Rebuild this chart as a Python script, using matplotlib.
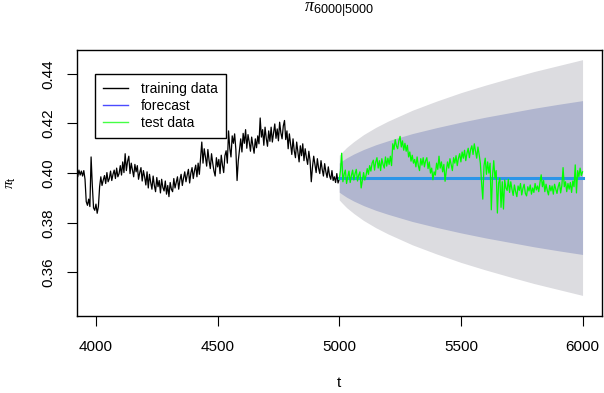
import numpy as np
import matplotlib
matplotlib.use('Agg')
import matplotlib.pyplot as plt
from matplotlib.lines import Line2D

plt.rcParams['font.family'] = ['Liberation Sans', 'DejaVu Sans']
plt.rcParams['mathtext.fontset'] = 'custom'
plt.rcParams['mathtext.rm'] = 'Liberation Sans'
plt.rcParams['mathtext.it'] = 'Liberation Serif:italic'

# training series, t = 3920 ... 5000 (step 5)
train_t = np.arange(3920, 5001, 5)
train_vals = [
    0.4005, 0.3985, 0.4012, 0.3992, 0.4008, 0.3988, 0.4010, 0.3975, 0.3885, 0.3870,
    0.3895, 0.3865, 0.4065, 0.3950, 0.3860, 0.3850, 0.3875, 0.3838, 0.3865, 0.3945,
    0.3985, 0.3950, 0.3972, 0.3990, 0.3958, 0.4002, 0.3965, 0.3978, 0.4008, 0.3970,
    0.3995, 0.4012, 0.3978, 0.4020, 0.3985, 0.3998, 0.4030, 0.3992, 0.4045, 0.4002,
    0.4078, 0.4010, 0.4048, 0.4068, 0.3998, 0.4040, 0.4012, 0.3985, 0.4035, 0.4005,
    0.4030, 0.3975, 0.4002, 0.4022, 0.3968, 0.4010, 0.3985, 0.3952, 0.4005, 0.3940,
    0.3995, 0.3962, 0.3935, 0.3988, 0.3950, 0.3925, 0.3982, 0.3945, 0.3970, 0.3920,
    0.3975, 0.3942, 0.3928, 0.3968, 0.3915, 0.3950, 0.3905, 0.3962, 0.3935, 0.3925,
    0.3978, 0.3940, 0.3962, 0.3985, 0.3935, 0.3972, 0.3995, 0.3950, 0.3980, 0.4005,
    0.3965, 0.3992, 0.4015, 0.3960, 0.4000, 0.4022, 0.3978, 0.4010, 0.4032, 0.3985,
    0.4040, 0.3995, 0.4062, 0.4125, 0.4040, 0.4098, 0.4065, 0.4028, 0.4095, 0.4050,
    0.4018, 0.4078, 0.4040, 0.4008, 0.3988, 0.4062, 0.4025, 0.4055, 0.3998, 0.4072,
    0.4032, 0.4002, 0.4070, 0.4090, 0.4040, 0.4170, 0.4100, 0.4065, 0.4150, 0.4120,
    0.4158, 0.4095, 0.3970, 0.4050, 0.4095, 0.4138, 0.4085, 0.4160, 0.4120, 0.4175,
    0.4100, 0.4155, 0.4125, 0.4088, 0.4145, 0.4110, 0.4080, 0.4138, 0.4102, 0.4150,
    0.4118, 0.4222, 0.4145, 0.4175, 0.4112, 0.4185, 0.4140, 0.4108, 0.4170, 0.4128,
    0.4185, 0.4125, 0.4160, 0.4198, 0.4140, 0.4178, 0.4130, 0.4205, 0.4162, 0.4138,
    0.4190, 0.4212, 0.4135, 0.4170, 0.4098, 0.4158, 0.4115, 0.4075, 0.4138, 0.4090,
    0.4062, 0.4125, 0.4085, 0.4045, 0.4110, 0.4070, 0.4118, 0.4050, 0.4098, 0.4062,
    0.4035, 0.4088, 0.4050, 0.3965, 0.4025, 0.4068, 0.4035, 0.4002, 0.4058, 0.4020,
    0.3998, 0.4050, 0.4015, 0.3988, 0.4038, 0.4005, 0.3982, 0.4025, 0.3990, 0.3975,
    0.4010, 0.3970, 0.3985, 0.3962, 0.3998, 0.3960, 0.3975,
]

# test series, t = 5000 ... 6000 (step 5)
test_t = np.arange(5000, 6001, 5)
test_vals = [
    0.3975, 0.4010, 0.4080, 0.3965, 0.3995, 0.4012, 0.3958, 0.3985, 0.4008, 0.3962,
    0.3990, 0.4012, 0.3972, 0.3998, 0.4015, 0.3968, 0.3992, 0.4005, 0.3940, 0.3970,
    0.4002, 0.3972, 0.3990, 0.4018, 0.3995, 0.4030, 0.4008, 0.4040, 0.4052, 0.4012,
    0.4045, 0.4062, 0.4020, 0.4050, 0.4010, 0.4058, 0.4035, 0.4020, 0.4065, 0.4028,
    0.4060, 0.4035, 0.4068, 0.4030, 0.4118, 0.4095, 0.4135, 0.4110, 0.4098, 0.4130,
    0.4148, 0.4105, 0.4130, 0.4092, 0.4120, 0.4088, 0.4112, 0.4065, 0.4085, 0.4048,
    0.4072, 0.4040, 0.4055, 0.4025, 0.4065, 0.4030, 0.4010, 0.4058, 0.4032, 0.4062,
    0.4025, 0.4050, 0.4062, 0.4018, 0.4045, 0.4000, 0.4020, 0.3973, 0.4005, 0.3992,
    0.4040, 0.4015, 0.4068, 0.4020, 0.4045, 0.4005, 0.4035, 0.3967, 0.4010, 0.4045,
    0.4020, 0.4058, 0.4035, 0.4010, 0.4062, 0.4040, 0.4070, 0.4030, 0.4060, 0.4078,
    0.4045, 0.4085, 0.4060, 0.4092, 0.4050, 0.4080, 0.4100, 0.4062, 0.4095, 0.4110,
    0.4075, 0.4118, 0.4088, 0.4060, 0.4105, 0.4075, 0.4040, 0.3960, 0.3895, 0.4030,
    0.4060, 0.3995, 0.4045, 0.4000, 0.4040, 0.3852, 0.3990, 0.4050, 0.3980, 0.4010,
    0.3839, 0.3960, 0.3980, 0.3862, 0.3965, 0.3855, 0.3972, 0.3940, 0.3930, 0.3975,
    0.3922, 0.3965, 0.3935, 0.3910, 0.3952, 0.3925, 0.3905, 0.3948, 0.3930, 0.3958,
    0.3912, 0.3938, 0.3955, 0.3918, 0.3908, 0.3945, 0.3928, 0.3952, 0.3915, 0.3940,
    0.3922, 0.3958, 0.3932, 0.3948, 0.3925, 0.3962, 0.3993, 0.3945, 0.3970, 0.3925,
    0.3955, 0.3930, 0.3912, 0.3950, 0.3928, 0.3948, 0.3915, 0.3955, 0.3935, 0.3918,
    0.3945, 0.3962, 0.3920, 0.3950, 0.4022, 0.3945, 0.3965, 0.3925, 0.3958, 0.3935,
    0.3962, 0.3922, 0.3968, 0.3945, 0.4033, 0.3920, 0.4010, 0.3985, 0.4020, 0.3990,
    0.4005,
]

# point forecast and interval half-widths
forecast_start = 5000
forecast_end = 6000
forecast_level = 0.3982
band_t = [5000, 5010, 5030, 5060, 5100, 5150, 5200, 5300, 5400, 5500, 5600, 5700, 5800, 5900, 6000]
outer_hw = [0.0090, 0.0101, 0.0121, 0.0145, 0.0173, 0.0202, 0.0227, 0.0271, 0.0308,
            0.0342, 0.0372, 0.0400, 0.0427, 0.0451, 0.0475]
inner_hw = [0.0059, 0.0066, 0.0079, 0.0095, 0.0113, 0.0132, 0.0148, 0.0177, 0.0201,
            0.0223, 0.0243, 0.0261, 0.0279, 0.0295, 0.0310]

fig = plt.figure(figsize=(6.04, 3.93), dpi=100)
ax = fig.add_axes([76.5 / 604, 77 / 393, 525.5 / 604, 266 / 393])

bt = np.array(band_t)
ax.fill_between(bt, forecast_level - np.array(outer_hw), forecast_level + np.array(outer_hw),
                color='#dcdce0', lw=0)
ax.fill_between(bt, forecast_level - np.array(inner_hw), forecast_level + np.array(inner_hw),
                color='#b1b6cf', lw=0)

ax.plot(train_t, train_vals, color='black', lw=0.9)
ax.plot([forecast_start, forecast_end], [forecast_level, forecast_level], color='#2c95e8', lw=2.2)
ax.plot(test_t, test_vals, color='#00ff00', lw=0.9)

ax.set_xlim(3920, 6080)
ax.set_ylim(0.3424, 0.4496)
ax.set_xticks([4000, 4500, 5000, 5500, 6000])
ax.set_yticks([0.36, 0.38, 0.40, 0.42, 0.44])
ax.set_yticklabels(['0.36', '0.38', '0.40', '0.42', '0.44'])

for s in ax.spines.values():
    s.set_linewidth(1.0)
    s.set_color('black')
ax.tick_params(direction='out', length=7, width=0.8, labelsize=11)
ax.tick_params(axis='x', pad=10)
ax.tick_params(axis='y', labelrotation=90, pad=8)
for lab in ax.get_yticklabels():
    lab.set_va('center')

ax.set_xlabel('t', fontsize=11, va='center')
ax.xaxis.set_label_coords(0.5, (316 - 383) / 266)
ax.set_ylabel(r'$\pi_{\mathrm{t}}$', fontsize=11, va='center')
ax.yaxis.set_label_coords((11 - 76.5) / 525.5, 0.5)

fig.text(339.25 / 604, 1 - 10 / 393, r'$\pi_{6000|5000}$', ha='center', va='center', fontsize=13)

handles = [Line2D([], [], color='black', lw=1.0),
           Line2D([], [], color='#4b4bff', lw=1.0),
           Line2D([], [], color='#44ff44', lw=1.0)]
leg = ax.legend(handles, ['training data', 'forecast', 'test data'],
                loc='upper left', bbox_to_anchor=((95 - 76.5) / 525.5, 1 - (74 - 50) / 266),
                borderaxespad=0, fancybox=False, framealpha=1, edgecolor='black',
                fontsize=10, handlelength=1.8, handletextpad=0.9, labelspacing=0.2,
                borderpad=0.6)
leg.get_frame().set_linewidth(1.0)

fig.savefig('out.png', dpi=100)
